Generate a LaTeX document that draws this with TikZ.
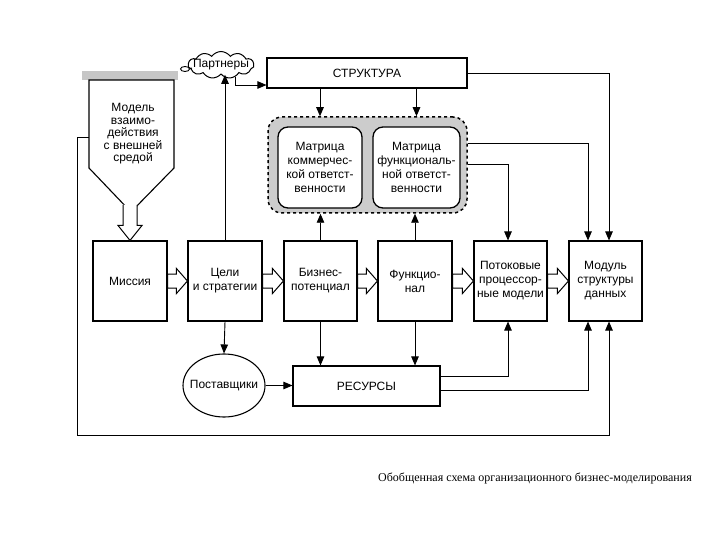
\documentclass[tikz,border=0pt]{standalone}
\usepackage{fontspec}
\setmainfont{Liberation Sans}
\newfontfamily\capfont{Liberation Serif}
\usetikzlibrary{arrows.meta,shapes.symbols,shapes.geometric,calc}
\newcommand\hollowH[2]{\filldraw[hollow] let \p1=(#1), \p2=(#2) in
  (\x1,\y1+7pt) -- (\x2-11pt,\y1+7pt) -- (\x2-11pt,\y1+12.5pt) -- (\x2,\y1)
  -- (\x2-11pt,\y1-12.5pt) -- (\x2-11pt,\y1-7pt) -- (\x1,\y1-7pt) -- cycle;}
\newcommand\hollowV[2]{\fill[white] let \p1=(#1), \p2=(#2) in
  (\x2-7pt,\y1) -- (\x2-7pt,\y2+15pt) -- (\x2-12pt,\y2+15pt) -- (\x2,\y2)
  -- (\x2+12pt,\y2+15pt) -- (\x2+7pt,\y2+15pt) -- (\x2+7pt,\y1) -- cycle;
  \draw[hollow] let \p1=(#1), \p2=(#2) in
  (\x2-7pt,\y1) -- (\x2-7pt,\y2+15pt) -- (\x2-12pt,\y2+15pt) -- (\x2,\y2)
  -- (\x2+12pt,\y2+15pt) -- (\x2+7pt,\y2+15pt) -- (\x2+7pt,\y1);}
\begin{document}
\begin{tikzpicture}[x=1pt,y=-1pt,
  txt/.style={font=\fontsize{12}{14}\selectfont, align=center},
  box/.style={txt, draw, line width=1.1pt, minimum width=74pt, minimum height=80pt, inner sep=1pt},
  mbox/.style={txt, draw, line width=1.3pt, fill=white, rounded corners=10pt, minimum height=81pt, inner sep=0pt},
  grpbox/.style={draw, line width=1.5pt, dashed, fill=gray!40, rounded corners=14pt, minimum width=199pt, minimum height=96pt},
  arr/.style={line width=0.9pt, -{Triangle[length=9pt,width=7.5pt]}},
  hollow/.style={draw, line width=1pt, fill=white, line join=miter},
  pentline/.style={line width=1.1pt}
]
\useasboundingbox (0,0) rectangle (720,540);

% pentagon
\fill[gray!45] (82,71) rectangle (178,80);
\draw[pentline] (89,80) -- (174,80) -- (174,168) -- (131,212) -- (89,168) -- cycle;
\node[txt, font=\fontsize{12}{12.5}\selectfont] (pm) at (133,134) {Модель\\взаимо-\\действия\\с внешней\\средой};
\coordinate (pshaft) at (130,205);
\coordinate (pleft) at (89,137);
\coordinate (lc) at (77,435);

% main row
\node[box] (mis) at (130,281) {Миссия};
\node[box] (cel) at (225,281) {Цели\\и стратегии};
\node[box, minimum width=73pt] (biz) at (320.5,281) {Бизнес-\\потенциал};
\node[box] (fun) at (415,281) {Функцио-\\нал};
\node[box, minimum width=73pt] (pot) at (510.5,281) {Потоковые\\процессор-\\ные модели};
\node[box, minimum width=73pt] (mod) at (605.5,281) {Модуль\\структуры\\данных};

% top
\node[box, minimum width=200pt, minimum height=30pt] (str) at (367,73) {СТРУКТУРА};
\node[cloud, draw, line width=1pt, cloud puffs=11, cloud puff arc=110, cloud ignores aspect,
      minimum width=66pt, minimum height=27pt, inner sep=0pt,
      label={[txt]center:Партнеры}] (par) at (221,65) {};
\draw[line width=0.9pt] (185,69) ellipse (4.5pt and 2.5pt);
\draw[line width=0.9pt] (189.5,69) -- (192,68);

% group
\node[grpbox] (grp) at (367.5,165) {};
\node[mbox, minimum width=84pt] (m1) at (320,167.5) {Матрица\\коммерчес-\\кой ответст-\\венности};
\node[mbox, minimum width=87pt] (m2) at (416.5,167.5) {Матрица\\функциональ-\\ной ответст-\\венности};

% bottom
\node[ellipse, draw, line width=1.1pt, minimum width=82pt, minimum height=63pt, inner sep=0pt,
      label={[txt]center:Поставщики}] (pos) at (224,385.5) {};
\node[box, minimum width=147pt, minimum height=40pt] (res) at (366.5,386) {РЕСУРСЫ};

% connectors
\draw[arr] (cel.north) -- (cel.north |- par.south);
\draw[arr] (par.-40) |- ([yshift=-12pt]str.west);
\draw[arr] (str.south -| m1.north) -- (m1.north |- grp.north);
\draw[arr] (str.south -| m2.north) -- (m2.north |- grp.north);
\draw[arr] (str.east) -| ([xshift=3.5pt]mod.north);
\draw[arr] ([yshift=22pt]grp.east) -| ([xshift=-17.5pt]mod.north);
\draw[arr] ([yshift=1pt]grp.east) -| ([xshift=-2.5pt]pot.north);
\draw[arr] (biz.north) -- (biz.north |- grp.south);
\draw[arr] (fun.north) -- (fun.north |- grp.south);
\draw[arr] (biz.south) -- (biz.south |- res.north);
\draw[arr] (fun.south) -- (fun.south |- res.north);
\draw[arr] (cel.south) -- (pos.north);
\draw[arr] (pos.east) -- (pos.east -| res.west);
\draw[arr] ([yshift=10pt]res.east) -| ([xshift=-2.5pt]pot.south);
\draw[arr] ([yshift=-4pt]res.east) -| ([xshift=-17.5pt]mod.south);
\draw[arr] (pleft) -| (lc) -| ([xshift=3.5pt]mod.south);

% hollow arrows
\hollowV{pshaft}{mis.north}
\hollowH{mis.east}{cel.west}
\hollowH{cel.east}{biz.west}
\hollowH{biz.east}{fun.west}
\hollowH{fun.east}{pot.west}
\hollowH{pot.east}{mod.west}

% caption
\node[font=\capfont\fontsize{12}{14}\selectfont, anchor=west, inner sep=0pt] (cap) at (378,478) {Обобщенная схема организационного бизнес-моделирования};
\end{tikzpicture}
\end{document}
